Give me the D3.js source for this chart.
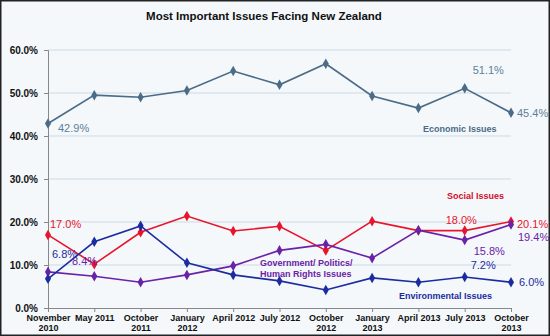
<!DOCTYPE html>
<html>
<head>
<meta charset="utf-8">
<script src="https://cdn.jsdelivr.net/npm/d3@7"></script>
<style>
  html, body { margin: 0; padding: 0; background: #fff; }
  svg { display: block; font-family: Arial, "Liberation Sans", sans-serif; }
</style>
</head>
<body>
<svg id="chart" width="550" height="336"></svg>
<script>
// Survey waves (two-line labels)
const periods = [
  ["November", "2010"], ["May 2011"], ["October", "2011"], ["January", "2012"],
  ["April 2012"], ["July 2012"], ["October", "2012"], ["January", "2013"],
  ["April 2013"], ["July 2013"], ["October", "2013"]
];
const economic      = [42.9, 49.5, 49.0, 50.6, 55.1, 51.9, 56.8, 49.3, 46.5, 51.1, 45.4];
const social        = [17.0, 10.2, 17.6, 21.4, 17.9, 19.0, 13.4, 20.2, 18.0, 18.0, 20.1];
const environmental = [6.8, 15.4, 19.1, 10.5, 7.7, 6.3, 4.2, 7.0, 6.0, 7.2, 6.0];
const government    = [8.4, 7.4, 6.0, 7.7, 9.8, 13.4, 14.8, 11.6, 18.1, 15.8, 19.4];
const yTicks = [0, 10, 20, 30, 40, 50, 60];

const svg = d3.select("#chart");
const W = 550, H = 336;
const FONT = "Arial, 'Liberation Sans', sans-serif";

// background panel and frame
svg.append("rect").attr("x", 0.75).attr("y", 0.75).attr("width", W - 1.5).attr("height", H - 1.5)
  .attr("fill", "#f4f8fb").attr("stroke", "#222").attr("stroke-width", 1.5);

svg.append("text").attr("x", 264).attr("y", 20).attr("text-anchor", "middle")
  .attr("font-size", 11.5).attr("font-weight", "bold").attr("fill", "#111")
  .text("Most Important Issues Facing New Zealand");

const x = d3.scalePoint().domain(d3.range(periods.length)).range([48, 511]);
const y = d3.scaleLinear().domain([0, 60]).range([308, 50]);

// horizontal gridlines
svg.append("g").selectAll("line").data(yTicks.filter(d => d > 0)).join("line")
  .attr("x1", 48).attr("x2", 511)
  .attr("y1", d => y(d)).attr("y2", d => y(d))
  .attr("stroke", "#dbe4ec").attr("stroke-width", 1.5);

// y axis
const yAxis = svg.append("g").attr("transform", "translate(48,0)")
  .call(d3.axisLeft(y).tickValues(yTicks).tickSize(4).tickPadding(6)
    .tickFormat(d => d.toFixed(1) + "%"));
yAxis.select(".domain").attr("stroke", "#888");
yAxis.selectAll(".tick line").attr("stroke", "#888");
yAxis.selectAll("text").attr("font-size", 10).attr("font-weight", "bold")
  .attr("fill", "#111").attr("font-family", FONT);

// x axis
const xAxis = svg.append("g").attr("transform", "translate(0,308)")
  .call(d3.axisBottom(x).tickSize(4).tickSizeOuter(0).tickFormat(""));
xAxis.select(".domain").attr("stroke", "#888");
xAxis.selectAll(".tick line").attr("stroke", "#888");
xAxis.selectAll(".tick").each(function(d) {
  const t = d3.select(this).append("text").attr("text-anchor", "middle")
    .attr("font-size", 9).attr("font-weight", "bold").attr("fill", "#111")
    .attr("font-family", FONT);
  periods[d].forEach((s, i) => t.append("tspan").attr("x", 0).attr("y", 13 + i * 10).text(s));
});

const series = [
  { values: economic,      color: "#4b6b86" },
  { values: social,        color: "#e8142c" },
  { values: government,    color: "#6a22a6" },
  { values: environmental, color: "#1c2ca0" }
];

const line = d3.line().x((d, i) => x(i)).y(d => y(d));
const diamond = d3.symbol().type(d3.symbolDiamond).size(32);

series.forEach(s => {
  svg.append("path").datum(s.values).attr("d", line)
    .attr("fill", "none").attr("stroke", s.color).attr("stroke-width", 1.6);
  svg.append("g").selectAll("path").data(s.values).join("path")
    .attr("d", diamond)
    .attr("transform", (d, i) => `translate(${x(i)},${y(d)})`)
    .attr("fill", s.color);
});

// value labels
const fmt = v => v.toFixed(1) + "%";
const valueLabels = [
  { v: economic[0],       i: 0,  dx: 10,  dy: 8,   color: "#5f7f98" },
  { v: economic[9],       i: 9,  dx: 8,   dy: -14, color: "#5f7f98" },
  { v: economic[10],      i: 10, dx: 6,   dy: 4,   color: "#5f7f98" },
  { v: social[0],         i: 0,  dx: 2,   dy: -7,  color: "#e8142c" },
  { v: social[9],         i: 9,  dx: -19, dy: -7,  color: "#e8142c" },
  { v: social[10],        i: 10, dx: 6,   dy: 6,   color: "#e8142c" },
  { v: government[10],    i: 10, dx: 7,   dy: 16,  color: "#6a22a6" },
  { v: government[9],     i: 9,  dx: 9,   dy: 15,  color: "#6a22a6" },
  { v: government[0],     i: 0,  dx: 24,  dy: -7,  color: "#6a22a6" },
  { v: environmental[0],  i: 0,  dx: 4,   dy: -21, color: "#1c2ca0" },
  { v: environmental[9],  i: 9,  dx: 6,   dy: -8,  color: "#1c2ca0" },
  { v: environmental[10], i: 10, dx: 8,   dy: 4,   color: "#1c2ca0" }
];
svg.append("g").selectAll("text").data(valueLabels).join("text")
  .attr("x", d => x(d.i) + d.dx).attr("y", d => y(d.v) + d.dy)
  .attr("font-size", 11).attr("fill", d => d.color)
  .text(d => fmt(d.v));

// series names
const names = [
  { lines: ["Economic Issues"], x: 423, y: 132, color: "#4b6b86" },
  { lines: ["Social Issues"], x: 447, y: 199, color: "#d0102a" },
  { lines: ["Government/ Politics/", "Human Rights Issues"], x: 260, y: 266, color: "#6a22a6" },
  { lines: ["Environmental Issues"], x: 399, y: 299, color: "#1c2ca0" }
];
names.forEach(n => {
  const t = svg.append("text").attr("font-size", 9).attr("font-weight", "bold").attr("fill", n.color);
  n.lines.forEach((s, i) => t.append("tspan").attr("x", n.x).attr("y", n.y + i * 11).text(s));
});
</script>
</body>
</html>
